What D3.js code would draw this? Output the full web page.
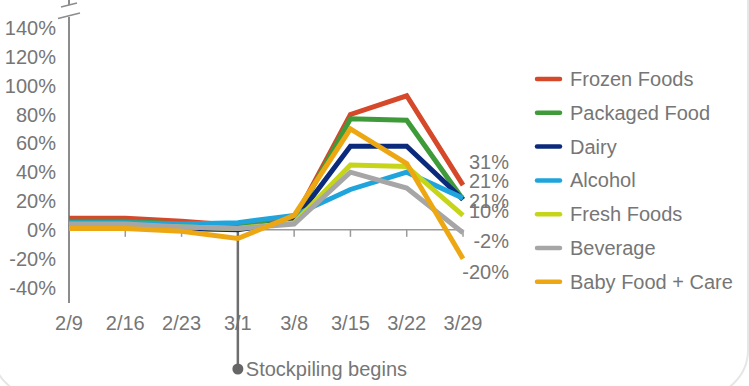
<!DOCTYPE html>
<html><head><meta charset="utf-8">
<script src="https://cdn.jsdelivr.net/npm/d3@7/dist/d3.min.js"></script>
<style>
html,body{margin:0;padding:0;background:#fff;}
svg{display:block;font-family:"Liberation Sans",Arial,sans-serif;}
</style></head>
<body>
<svg id="c" width="749" height="386"></svg>
<script>
const dates = ["2/9","2/16","2/23","3/1","3/8","3/15","3/22","3/29"];
const seriesNames = ["Frozen Foods","Packaged Food","Dairy","Alcohol","Fresh Foods","Beverage","Baby Food + Care"];
const seriesColors = ["#d5482a","#3f9b3a","#0b2a7c","#1fa5dc","#c6d51a","#a6a6a6","#eda712"];
const frozen   = [8, 8, 6, 3, 7, 80, 93, 31];
const packaged = [6, 6, 4, 2, 6, 77, 76, 21];
const dairy    = [4, 3, 1, 0, 6, 58, 58, 21];
const alcohol  = [5, 5, 4, 5, 10, 28, 40, 22];
const fresh    = [3, 3, 2, 1, 5, 45, 44, 10];
const beverage = [4, 4, 2, 1, 4, 40, 29, -2];
const baby     = [1, 1, -1, -6, 10, 70, 46, -20];
const yTicks = [140, 120, 100, 80, 60, 40, 20, 0, -20, -40];
const endLabels = ["31%","21%","21%","10%","-2%","-20%"];
const endLabelAt = [47, 34, 20, 13, -8, -29];
const eventDate = "3/1";
const eventLabel = "Stockpiling begins";

const allSeries = [frozen, packaged, dairy, alcohol, fresh, beverage, baby];
const svg = d3.select("#c");
const textColor = "#767676";
const axisColor = "#8c8c8c";
const fs = "20px";

// card border
svg.append("rect").attr("x",-8).attr("y",-60).attr("width",756).attr("height",456)
  .attr("rx",46).attr("fill","none").attr("stroke","#e6e6e6").attr("stroke-width",2);

const x = d3.scalePoint().domain(dates).range([69, 463]);
const y = d3.scaleLinear().domain([-40, 140]).range([287.5, 28]);

// y axis labels
svg.append("g").selectAll("text").data(yTicks).join("text")
  .attr("x", 56).attr("y", d => y(d)).attr("dy","0.35em")
  .attr("text-anchor","end").attr("font-size",fs).attr("fill",textColor)
  .text(d => d + "%");

// y axis line with break
svg.append("line").attr("x1",69).attr("x2",69).attr("y1",17).attr("y2",303)
  .attr("stroke",axisColor).attr("stroke-width",2);
svg.append("line").attr("x1",69).attr("x2",69).attr("y1",0).attr("y2",5)
  .attr("stroke",axisColor).attr("stroke-width",2);
svg.append("line").attr("x1",61).attr("y1",7).attr("x2",77).attr("y2",3)
  .attr("stroke",axisColor).attr("stroke-width",1.5);
svg.append("line").attr("x1",58).attr("y1",18.5).attr("x2",80).attr("y2",13)
  .attr("stroke",axisColor).attr("stroke-width",1.5);

// zero line + ticks
svg.append("line").attr("x1",x(dates[0])).attr("x2",x(dates[dates.length-1]))
  .attr("y1",y(0)).attr("y2",y(0)).attr("stroke","#9a9a9a").attr("stroke-width",1.5);
svg.append("g").selectAll("line").data(dates.slice(1)).join("line")
  .attr("x1",d=>x(d)).attr("x2",d=>x(d)).attr("y1",y(0)).attr("y2",y(0)+7)
  .attr("stroke","#9a9a9a").attr("stroke-width",1.5);

// x labels
svg.append("g").selectAll("text").data(dates).join("text")
  .attr("x", d => x(d)).attr("y", 323).attr("dy","0.35em")
  .attr("text-anchor","middle").attr("font-size",fs).attr("fill",textColor)
  .text(d => d);

// event marker
svg.append("line").attr("x1",x(eventDate)).attr("x2",x(eventDate))
  .attr("y1",y(0)).attr("y2",369).attr("stroke","#6e6e6e").attr("stroke-width",2.5);
svg.append("circle").attr("cx",x(eventDate)).attr("cy",369).attr("r",5.5).attr("fill","#666");
svg.append("text").attr("x",x(eventDate)+8).attr("y",369).attr("dy","0.35em")
  .attr("font-size",fs).attr("fill",textColor).text(eventLabel);

// lines
const line = d3.line().x((d,i)=>x(dates[i])).y(d=>y(d));
svg.append("g").selectAll("path").data(allSeries).join("path")
  .attr("d", d => line(d)).attr("fill","none")
  .attr("stroke",(d,i)=>seriesColors[i]).attr("stroke-width",5)
  .attr("stroke-linejoin","miter").attr("stroke-linecap","butt");

// end labels
svg.append("g").selectAll("text").data(endLabels).join("text")
  .attr("x", 509).attr("y",(d,i)=>y(endLabelAt[i])).attr("dy","0.35em")
  .attr("text-anchor","end").attr("font-size",fs).attr("fill",textColor)
  .text(d=>d);

// legend
const lg = svg.append("g").selectAll("g").data(seriesNames).join("g")
  .attr("transform",(d,i)=>`translate(537,${79 + i*33.8})`);
lg.append("line").attr("x1",0).attr("x2",23).attr("y1",0).attr("y2",0)
  .attr("stroke",(d,i)=>seriesColors[i]).attr("stroke-width",4.5).attr("stroke-linecap","round");
lg.append("text").attr("x",33).attr("y",0).attr("dy","0.35em")
  .attr("font-size",fs).attr("fill",textColor).text(d=>d);
</script>
</body></html>
